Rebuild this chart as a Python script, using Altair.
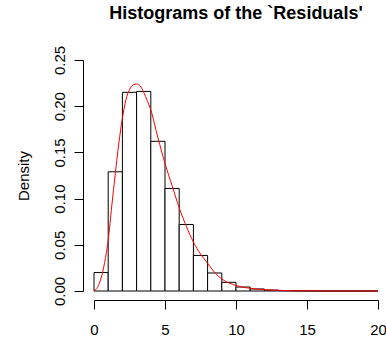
import altair as alt
import pandas as pd

# Histogram bins (width 1) and densities
bin_start = list(range(0, 20))
density = [0.020, 0.129, 0.215, 0.216, 0.162, 0.111, 0.072, 0.0385, 0.0195, 0.0094,
           0.0043, 0.0022, 0.0010, 0.0004, 0.0002, 0.0001, 0.00005, 0.00003, 0.00002, 0.00001]

# Red density curve
curve_x = [0, 0.25, 0.5, 0.75, 1.0, 1.25, 1.5, 1.75, 2.0, 2.25, 2.5, 2.75, 3.0, 3.25,
           3.5, 3.75, 4.0, 4.5, 5.0, 5.5, 6.0, 6.5, 7.0, 7.5, 8.0, 8.5, 9.0, 10, 11,
           12, 13, 14, 15, 16, 18, 20]
curve_y = [0.0, 0.004, 0.014, 0.031, 0.055, 0.092, 0.127, 0.160, 0.187, 0.207, 0.218,
           0.223, 0.224, 0.222, 0.215, 0.206, 0.196, 0.166, 0.138, 0.114, 0.090, 0.070,
           0.053, 0.040, 0.030, 0.020, 0.013, 0.0060, 0.0029, 0.0014, 0.0007, 0.0003,
           0.00015, 0.00007, 0.00002, 0.0]

x_ticks = [0, 5, 10, 15, 20]
y_ticks = [0.0, 0.05, 0.10, 0.15, 0.20, 0.25]

bars_df = pd.DataFrame({"start": bin_start,
                        "end": [s + 1 for s in bin_start],
                        "density": density})
curve_df = pd.DataFrame({"x": curve_x, "y": curve_y})

FONT = "Liberation Sans"

xscale = alt.Scale(domain=[0, 20], nice=False, zero=False)
yscale = alt.Scale(domain=[0, 0.25], nice=False)

xaxis = alt.Axis(values=x_ticks, title=None, offset=9, tickSize=9, labelPadding=13,
                 grid=False, domainColor="black", tickColor="black", labelColor="black",
                 labelFont=FONT, labelFontSize=15, labelFlush=False)
yaxis = alt.Axis(values=y_ticks, format=".2f", title="Density", offset=11, tickSize=9,
                 labelAngle=-90, labelAlign="center", labelBaseline="alphabetic",
                 labelPadding=10, grid=False, domainColor="black", tickColor="black",
                 labelColor="black", labelFont=FONT, labelFontSize=15,
                 titleFont=FONT, titleFontSize=15, titleFontWeight="normal",
                 titleColor="black", titlePadding=21, labelFlush=False)

bars = alt.Chart(bars_df).mark_rect(fill="white", stroke="black", strokeWidth=1).encode(
    x=alt.X("start:Q", scale=xscale, axis=xaxis),
    x2="end:Q",
    y=alt.Y("density:Q", scale=yscale, axis=yaxis),
    y2=alt.datum(0),
)

curve = alt.Chart(curve_df).mark_line(color="#ff0000", strokeWidth=1,
                                      interpolate="monotone").encode(
    x=alt.X("x:Q", scale=xscale),
    y=alt.Y("y:Q", scale=yscale),
)

chart = alt.layer(bars, curve).properties(
    width=284, height=231,
    autosize=alt.AutoSizeParams(type="none"),
    padding={"left": 94, "top": 60, "right": 8, "bottom": 50},
    background="white",
    title=alt.TitleParams("Histograms of the `Residuals'", font=FONT, fontSize=18,
                          fontWeight="bold", color="black", anchor="middle",
                          baseline="alphabetic", offset=8),
).configure_view(stroke=None)

chart.save("out.html", embed_options={"renderer": "svg", "actions": False})
